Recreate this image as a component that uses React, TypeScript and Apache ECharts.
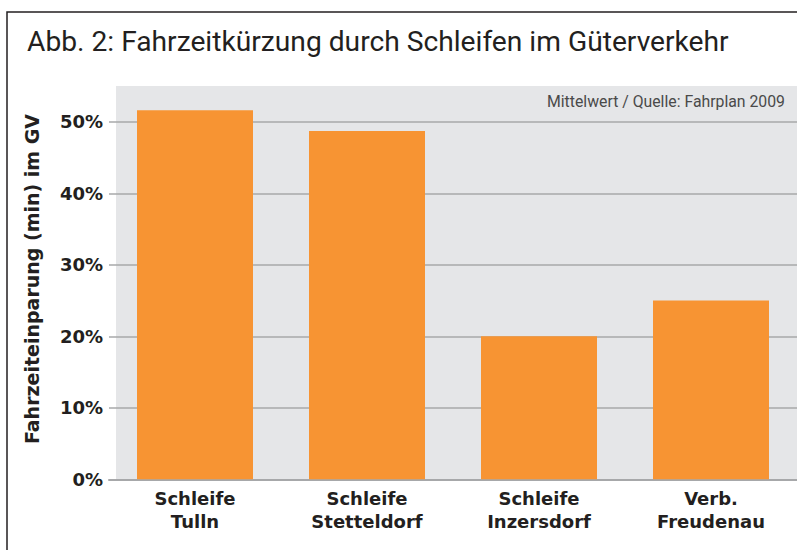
import React, { useEffect, useRef } from "react";
import * as echarts from "echarts";

const categories = ["Schleife\nTulln", "Schleife\nStetteldorf", "Schleife\nInzersdorf", "Verb.\nFreudenau"];
const values = [51.6, 48.7, 20, 25];
const titleText = "Abb. 2: Fahrzeitkürzung durch Schleifen im Güterverkehr";
const noteText = "Mittelwert / Quelle: Fahrplan 2009";
const yAxisName = "Fahrzeiteinparung (min) im GV";

const FONT = "Roboto, 'DejaVu Sans', sans-serif";
const BOLD_FONT = "'DejaVu Sans', sans-serif";
const DARK = "#231f20";
const GRID = "#a7a8aa";

export default function App() {
  const ref = useRef<HTMLDivElement>(null);
  useEffect(() => {
    if (!ref.current) return;
    const chart = echarts.init(ref.current, undefined, { renderer: "svg" });
    chart.setOption({
      animation: false,
      backgroundColor: "#ffffff",
      textStyle: { fontFamily: FONT },
      title: {
        text: titleText,
        left: 27,
        top: 27,
        padding: 0,
        textStyle: { fontFamily: FONT, fontSize: 28.2, fontWeight: "normal", color: DARK },
      },
      graphic: [
        {
          type: "rect",
          z: -10,
          shape: { x: 7, y: 12, width: 800, height: 560 },
          style: { fill: "none", stroke: DARK, lineWidth: 1.5 },
        },
        {
          type: "rect",
          z: -10,
          shape: { x: 116, y: 86, width: 690, height: 393.3 },
          style: { fill: "#e5e6e8" },
        },
        {
          type: "text",
          z: 10,
          style: {
            text: noteText,
            x: 785,
            y: 101,
            textAlign: "right",
            textVerticalAlign: "middle",
            fontSize: 15.8,
            fontFamily: FONT,
            fill: "#4a4a4a",
          },
        },
        {
          type: "text",
          z: 10,
          x: 32,
          y: 279,
          rotation: Math.PI / 2,
          style: {
            text: yAxisName,
            x: 0,
            y: 0,
            textAlign: "center",
            textVerticalAlign: "middle",
            fontSize: 19,
            fontWeight: "bold",
            fontFamily: BOLD_FONT,
            fill: DARK,
          },
        },
      ],
      grid: { left: 109, top: 86, width: 693, height: 393.3, containLabel: false },
      xAxis: {
        type: "category",
        data: categories,
        axisLine: { show: true, lineStyle: { color: GRID, width: 2 } },
        axisTick: { show: false },
        axisLabel: {
          fontFamily: BOLD_FONT,
          fontSize: 18,
          fontWeight: "bold",
          color: DARK,
          lineHeight: 23,
          margin: 8,
          interval: 0,
        },
      },
      yAxis: {
        type: "value",
        min: 0,
        max: 55,
        interval: 10,
        axisLine: { show: false },
        axisTick: { show: false },
        axisLabel: {
          formatter: (v: number) => v + "%",
          showMaxLabel: false,
          fontFamily: BOLD_FONT,
          fontSize: 18,
          fontWeight: "bold",
          color: DARK,
          margin: 6,
        },
        splitLine: {
          show: true,
          lineStyle: {
            color: [GRID, GRID, GRID, GRID, GRID, GRID, "rgba(0,0,0,0)"],
            width: 1.5,
          },
        },
      },
      series: [
        {
          type: "bar",
          data: values,
          barWidth: 116,
          itemStyle: { color: "#f79433" },
          z: 3,
        },
      ],
    });
    return () => chart.dispose();
  }, []);
  return <div ref={ref} style={{ position: "fixed", left: 0, top: 0, width: 797, height: 550 }} />;
}
